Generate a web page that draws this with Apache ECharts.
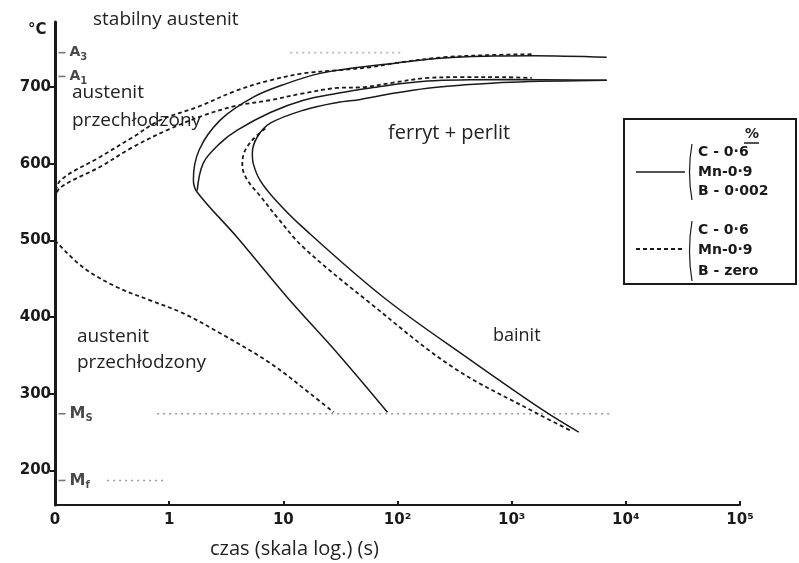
<!DOCTYPE html>
<html>
<head>
<meta charset="utf-8">
<title>Wykres CTPi</title>
<script src="https://cdn.jsdelivr.net/npm/echarts@6/dist/echarts.min.js"></script>
<style>
  html, body { margin: 0; padding: 0; background: #fff; }
  #chart { width: 799px; height: 563px; }
</style>
</head>
<body>
<div id="chart"></div>
<script>
// Time axis (s, log scale) tick values and their labels
const xTickValues = [0.1, 1, 10, 100, 1000, 10000, 100000];
const xTickLabels = ['0', '1', '10', '10²', '10³', '10⁴', '10⁵'];
// Temperature axis ticks (°C)
const yTickValues = [200, 300, 400, 500, 600, 700];

// Steel with boron (C 0.6, Mn 0.9, B 0.002) — solid curves, [time s, temperature °C]
const boronStartOuter = [
  [6800, 739], [1560, 741], [695, 740.5], [253, 738], [92, 731], [41, 725],
  [21, 718], [10.8, 705], [5.46, 687], [2.8, 657], [1.83, 618], [1.63, 579],
  [1.76, 563], [3.95, 504], [10.8, 426], [29.8, 353], [81.7, 276]
];
const boronStartInner = [
  [1.76, 565], [1.99, 601], [2.8, 627], [3.95, 644], [7.69, 667], [15, 683],
  [29.8, 692], [57.9, 699], [183, 708], [851, 710], [6800, 709]
];
const boronFinish = [
  [6800, 709], [979, 706.5], [357, 702.6], [183, 698.7], [92.2, 692], [47.3, 684],
  [29.8, 680], [15, 670], [7.69, 653], [5.91, 635], [5.35, 614], [5.46, 600],
  [6.28, 578], [8.5, 553], [14.1, 520], [75.3, 426], [437, 344], [1911, 278], [3869, 250]
];

// Steel without boron (C 0.6, Mn 0.9, B zero) — dashed curves
const zeroStartOuter = [
  [0.1, 556], [0.111, 578], [0.248, 609], [0.483, 635], [0.834, 657], [1.76, 674],
  [3.95, 696], [7.69, 709], [15, 718], [29.8, 722], [57.9, 726], [92.2, 731],
  [253, 739], [695, 742], [1560, 743]
];
const zeroStartInner = [
  [0.1, 554], [0.111, 569], [0.248, 596], [0.483, 622], [0.961, 644], [1.99, 663],
  [3.95, 676], [7.69, 683], [15, 692], [29.8, 699], [50.4, 700], [92.2, 706],
  [183, 712], [357, 713], [851, 713], [1500, 712]
];
const zeroFinish = [
  [6.95, 646], [5.35, 631], [4.55, 615], [4.37, 598], [4.83, 579], [6.28, 558],
  [8.85, 530], [15, 491], [57.9, 418], [310, 334], [1690, 274], [3297, 252]
];
const zeroBainiteStart = [
  [0.1, 500], [0.176, 465], [0.35, 439], [0.681, 422], [1.33, 405], [2.8, 379],
  [7.69, 340], [17.3, 300], [27.5, 276]
];

// Characteristic temperatures (°C) and the guide lines drawn at them
const refLevels = [745, 714, 274, 187];
const refNames = ['{m|A}{s|3}', '{m|A}{s|1}', '{M|M}{s|S}', '{M|M}{s|f}'];
const msLine = [[0.785, 274], [7380, 274]];
const mfLine = [[0.286, 187], [0.961, 187]];
const a3Line = [[11.5, 745], [106, 745]];

const INK = '#1a1a1a';
const NUM_FONT = 'DejaVu Sans';
const TXT_FONT = 'Open Sans';

function curve(data, dashed) {
  return {
    type: 'line', data: data, smooth: 0.35, symbol: 'none', silent: true,
    lineStyle: { color: INK, width: dashed ? 1.8 : 1.5, type: dashed ? [4, 3] : 'solid' }
  };
}
function guide(data, color) {
  return {
    type: 'line', data: data, symbol: 'none', silent: true,
    lineStyle: { color: color, width: 1.6, type: [2, 4] }
  };
}

const chart = echarts.init(document.getElementById('chart'), null, { renderer: 'canvas' });

function annot(x, y, text, size) {
  return {
    type: 'text', x: x, y: y,
    style: { text: text, verticalAlign: 'middle', fontFamily: TXT_FONT, fontSize: size || 19, fill: '#222' }
  };
}
function legendText(x, y, text) {
  return { type: 'text', x: x, y: y, style: { text: text, fontFamily: NUM_FONT, fontSize: 14, fontWeight: 'bold', fill: INK, verticalAlign: 'middle' } };
}

chart.setOption({
  animation: false,
  backgroundColor: '#fff',
  grid: { left: 55, right: 59, top: 22, bottom: 58 },
  xAxis: {
    type: 'log', logBase: 10, min: 0.1, max: 100000,
    axisLine: { lineStyle: { color: INK, width: 2 } },
    axisTick: { inside: true, length: 4, customValues: xTickValues, lineStyle: { color: INK, width: 2 } },
    axisLabel: {
      customValues: xTickValues, margin: 8,
      fontFamily: NUM_FONT, fontSize: 15, fontWeight: 'bold', color: INK,
      formatter: function (v) { return xTickLabels[Math.round(Math.log10(v)) + 1]; }
    },
    splitLine: { show: false }, minorTick: { show: false }
  },
  yAxis: {
    type: 'value', min: 155, max: 785,
    axisLine: { show: true, lineStyle: { color: INK, width: 3 } },
    axisTick: { show: true, length: 5, customValues: yTickValues, lineStyle: { color: INK, width: 2 } },
    axisLabel: { customValues: yTickValues, margin: 4, fontFamily: NUM_FONT, fontSize: 15, fontWeight: 'bold', color: INK },
    splitLine: { show: false }
  },
  series: [
    guide(msLine, '#9a9a9a'),
    guide(mfLine, '#9a9a9a'),
    guide(a3Line, '#b5b5b5'),
    curve(boronStartOuter, false),
    curve(boronStartInner, false),
    curve(boronFinish, false),
    curve(zeroStartOuter, true),
    curve(zeroStartInner, true),
    curve(zeroFinish, true),
    curve(zeroBainiteStart, true),
    {
      type: 'scatter', clip: false, silent: true,
      data: refLevels.map(function (v, i) { return { value: [0.1, v], name: refNames[i] }; }),
      symbol: 'rect', symbolSize: [7, 1.6], symbolOffset: [7, 0],
      itemStyle: { color: '#555' },
      label: {
        show: true, position: 'right', distance: 4,
        formatter: function (p) { return p.name; },
        rich: {
          m: { fontFamily: NUM_FONT, fontSize: 14, fontWeight: 'bold', color: INK, lineHeight: 20 },
          M: { fontFamily: NUM_FONT, fontSize: 16, fontWeight: 'bold', color: INK, lineHeight: 20 },
          s: { fontFamily: NUM_FONT, fontSize: 10, fontWeight: 'bold', color: INK, lineHeight: 20, verticalAlign: 'bottom' }
        }
      }
    }
  ],
  graphic: [
    { type: 'text', x: 28, y: 30, style: { text: '°C', fontFamily: NUM_FONT, fontSize: 15, fontWeight: 'bold', fill: INK, verticalAlign: 'middle' } },
    annot(93, 20, 'stabilny austenit'),
    annot(72, 93, 'austenit'),
    annot(72, 121, 'przechłodzony'),
    annot(388, 133, 'ferryt + perlit', 20),
    annot(77, 337, 'austenit'),
    annot(77, 363, 'przechłodzony'),
    annot(493, 336, 'bainit', 18),
    annot(210, 549, 'czas (skala log.) (s)', 20),
    // composition key
    { type: 'rect', shape: { x: 624, y: 119, width: 172, height: 165 }, style: { fill: '#fff', stroke: INK, lineWidth: 2 } },
    legendText(745, 134, '%'),
    { type: 'line', shape: { x1: 744, y1: 143, x2: 759, y2: 143 }, style: { stroke: INK, lineWidth: 1.5 } },
    { type: 'line', shape: { x1: 636, y1: 172, x2: 685, y2: 172 }, style: { stroke: INK, lineWidth: 1.5 } },
    { type: 'bezierCurve', shape: { x1: 692, y1: 144, x2: 692, y2: 200, cpx1: 687, cpy1: 172 }, style: { stroke: INK, lineWidth: 1.2, fill: null } },
    legendText(698, 152, 'C - 0·6'),
    legendText(698, 172, 'Mn-0·9'),
    legendText(698, 191, 'B - 0·002'),
    { type: 'line', shape: { x1: 636, y1: 249, x2: 685, y2: 249 }, style: { stroke: INK, lineWidth: 1.8, lineDash: [4, 3] } },
    { type: 'bezierCurve', shape: { x1: 692, y1: 221, x2: 692, y2: 281, cpx1: 687, cpy1: 251 }, style: { stroke: INK, lineWidth: 1.2, fill: null } },
    legendText(698, 230, 'C - 0·6'),
    legendText(698, 250, 'Mn-0·9'),
    legendText(698, 271, 'B - zero')
  ]
});
</script>
</body>
</html>
